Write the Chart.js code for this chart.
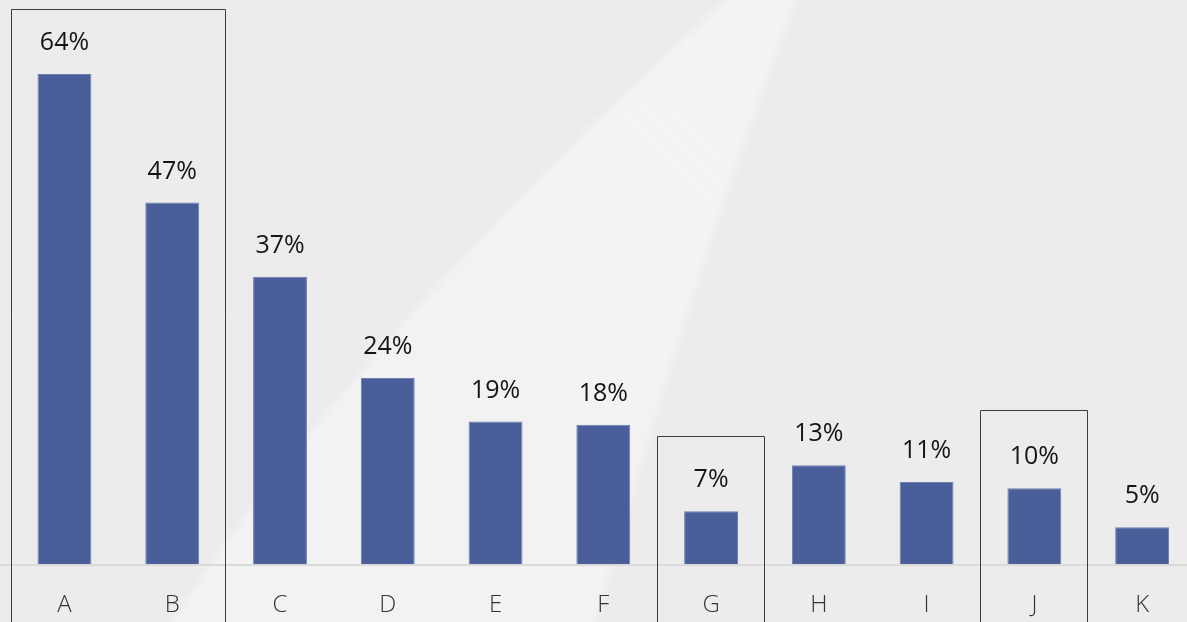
<!DOCTYPE html>
<html>
<head>
<meta charset="utf-8">
<script src="https://cdn.jsdelivr.net/npm/chart.js@4.4.1/dist/chart.umd.min.js"></script>
<style>
    html, body { margin: 0; padding: 0; overflow: hidden; background: #ececec; }
    #wrap { width: 1200px; height: 622px; }
</style>
</head>
<body>
<div id="wrap"><canvas id="barChart" width="1200" height="622"></canvas></div>
<script>
// chart data
const categories = ['A', 'B', 'C', 'D', 'E', 'F', 'G', 'H', 'I', 'J', 'K'];
const shares = [64, 47.2, 37.5, 24.3, 18.6, 18.2, 6.9, 12.9, 10.7, 9.9, 4.8];
const valueLabels = ['64%', '47%', '37%', '24%', '19%', '18%', '7%', '13%', '11%', '10%', '5%'];

// highlighted groups: first category, last category, top of the frame (in % units)
const boxFrom = [0, 6, 9];
const boxTo = [1, 6, 9];
const boxTop = [72.5, 16.7, 20.1];

// Paints the grey background with the soft light beam
const backdrop = {
    id: 'backdrop',
    beforeDraw(chart) {
        const ctx = chart.ctx;
        ctx.save();
        ctx.fillStyle = '#ececec';
        ctx.fillRect(0, 0, chart.width, chart.height);

        ctx.filter = 'blur(4px)';
        let g = ctx.createLinearGradient(160, 622, 800, 0);
        g.addColorStop(0, 'rgba(245,245,245,0.8)');
        g.addColorStop(0.5, 'rgba(244,244,244,0.8)');
        g.addColorStop(1, 'rgba(244,244,244,0.9)');
        ctx.fillStyle = g;
        ctx.beginPath();
        ctx.moveTo(737, -10);
        ctx.lineTo(800, -10);
        ctx.quadraticCurveTo(700, 250, 590, 640);
        ctx.lineTo(160, 640);
        ctx.quadraticCurveTo(360, 330, 737, -10);
        ctx.closePath();
        ctx.fill();

        // faint streak on the right
        ctx.filter = 'blur(12px)';
        ctx.strokeStyle = 'rgba(255,255,255,0.12)';
        ctx.lineWidth = 16;
        ctx.beginPath();
        ctx.moveTo(1075, 0);
        ctx.quadraticCurveTo(1150, 80, 1200, 190);
        ctx.stroke();
        ctx.restore();
    }
};

// Draws the axis line, value labels and the frames
const decorations = {
    id: 'decorations',
    afterDatasetsDraw(chart) {
        const ctx = chart.ctx;
        const area = chart.chartArea;
        const x = chart.scales.x;
        const y = chart.scales.y;
        const meta = chart.getDatasetMeta(0);
        const band = (area.right - area.left) / categories.length;

        ctx.save();
        ctx.strokeStyle = '#d9d9d9';
        ctx.lineWidth = 2;
        ctx.beginPath();
        ctx.moveTo(0, area.bottom + 1);
        ctx.lineTo(chart.width, area.bottom + 1);
        ctx.stroke();

        ctx.fillStyle = '#151515';
        ctx.font = '400 25px "Open Sans"';
        ctx.textAlign = 'center';
        ctx.textBaseline = 'alphabetic';
        meta.data.forEach((bar, i) => {
            ctx.fillText(valueLabels[i], bar.x, bar.y - 24);
        });

        ctx.strokeStyle = '#3c3c3c';
        ctx.lineWidth = 1;
        for (let i = 0; i < boxFrom.length; i++) {
            let left = Math.round(x.getPixelForValue(boxFrom[i]) - band / 2) + 0.5;
            let right = Math.round(x.getPixelForValue(boxTo[i]) + band / 2) - 0.5;
            let top = Math.round(y.getPixelForValue(boxTop[i])) + 0.5;
            ctx.beginPath();
            ctx.moveTo(left, chart.height + 2);
            ctx.lineTo(left, top);
            ctx.lineTo(right, top);
            ctx.lineTo(right, chart.height + 2);
            ctx.stroke();
        }
        ctx.restore();
    }
};

function initChart() {
    let ctx = document.getElementById('barChart').getContext('2d');
    new Chart(ctx, {
        type: 'bar',
        data: {
            labels: categories,
            datasets: [{
                data: shares,
                backgroundColor: '#4a5f9a',
                borderColor: '#6c7eb2',
                borderWidth: 1,
                barPercentage: 0.5,
                categoryPercentage: 1
            }]
        },
        options: {
            responsive: false,
            animation: false,
            layout: {
                padding: { left: 10.6, right: 4, top: 28, bottom: 0 }
            },
            plugins: {
                legend: { display: false },
                tooltip: { enabled: false }
            },
            scales: {
                y: { display: false, min: 0, max: 70 },
                x: {
                    grid: { display: false, drawTicks: false },
                    border: { display: false },
                    afterFit(scale) {
                        scale.height = 58; // keep the axis strip the same as the original
                    },
                    ticks: {
                        color: '#333',
                        padding: 27,
                        font: { family: 'Open Sans', size: 24, weight: '300' }
                    }
                }
            }
        },
        plugins: [backdrop, decorations]
    });
}

window.onload = initChart;
</script>
</body>
</html>
